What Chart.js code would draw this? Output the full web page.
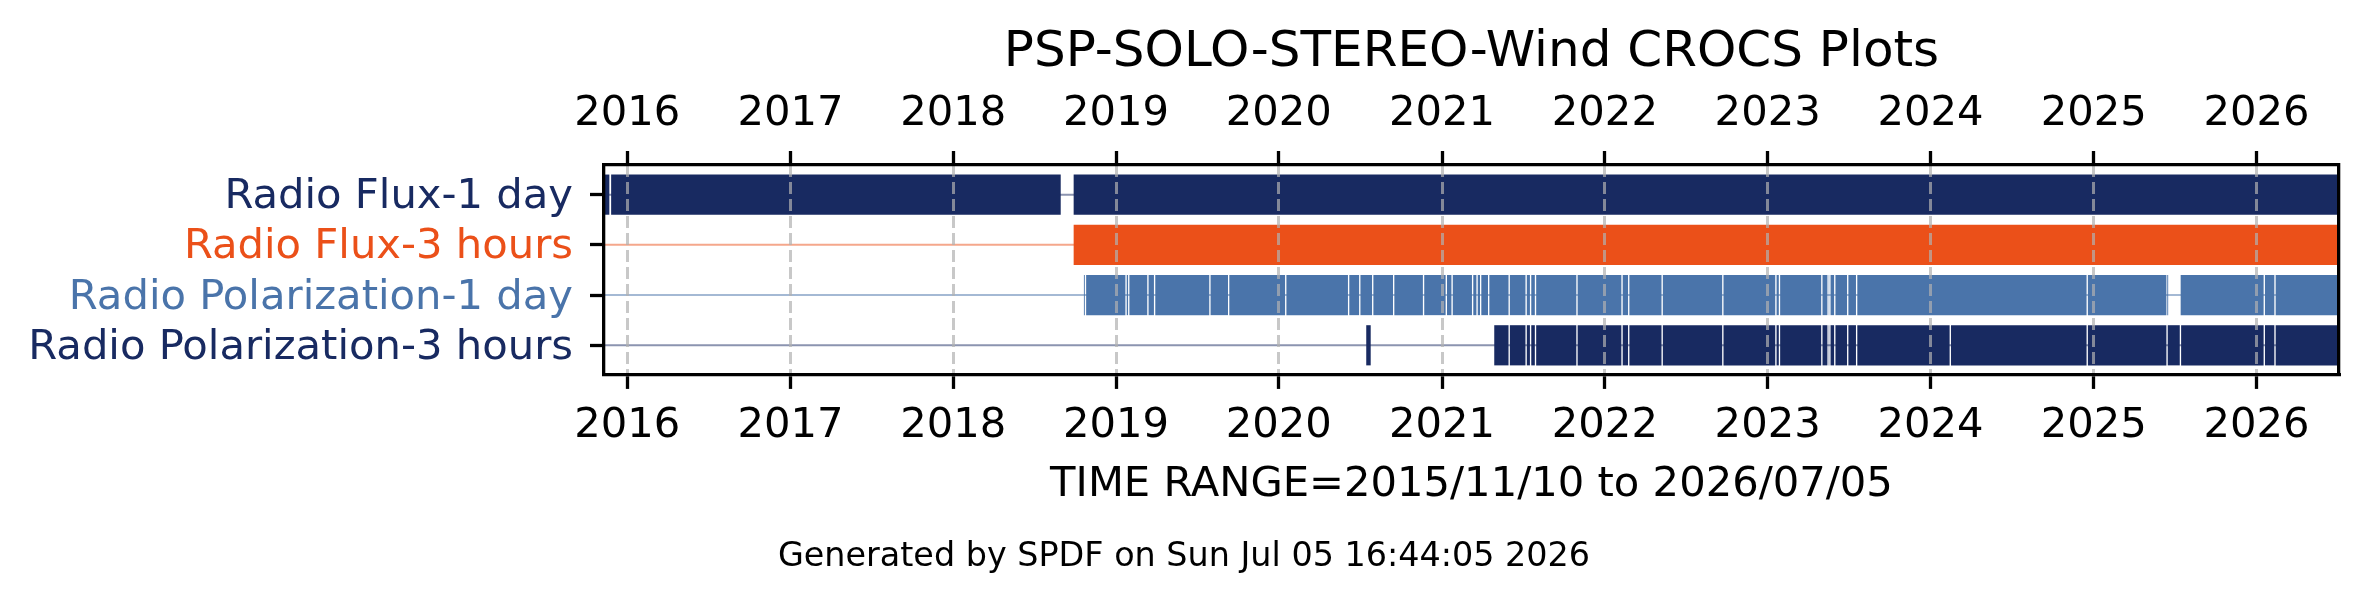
<!DOCTYPE html>
<html>
<head>
<meta charset="utf-8">
<title>PSP-SOLO-STEREO-Wind CROCS Plots</title>
<script src="https://cdn.jsdelivr.net/npm/chart.js@4.4.1/dist/chart.umd.min.js"></script>
<style>
  html, body { margin: 0; padding: 0; background: #fff; }
  canvas { display: block; }
</style>
</head>
<body>
<canvas id="crocs" width="2368" height="605"></canvas>
<script>
// rows, top to bottom
const rowLabels = ['Radio Flux-1 day', 'Radio Flux-3 hours', 'Radio Polarization-1 day', 'Radio Polarization-3 hours'];
const rowColors = ['#182a61', '#eb5019', '#4a74aa', '#182a61'];
const rowLineColors = ['rgba(24,42,97,0.5)', 'rgba(235,80,25,0.5)', 'rgba(74,116,170,0.5)', 'rgba(24,42,97,0.5)'];

const timeRange = ['2015-11-10', '2026-07-05'];
const yearTicks = ['2016', '2017', '2018', '2019', '2020', '2021', '2022', '2023', '2024', '2025', '2026'];
const footerText = 'Generated by SPDF on Sun Jul 05 16:44:05 2026';

// coverage per row: spans [start, end] and data gaps [from, to]
const flux1daySpans = [['2015-11-10', '2015-11-22'], ['2015-11-26', '2018-08-30'], ['2018-09-28', '2026-07-05']];
const flux1dayGaps = [];

const flux3hSpans = [['2018-09-28', '2026-07-05']];
const flux3hGaps = [];

const pol1daySpans = [['2018-10-21', '2026-07-05']];
const pol1dayGaps = [
  ['2018-10-23', '2018-10-26'], ['2019-01-22', '2019-01-25'], ['2019-01-28', '2019-01-31'],
  ['2019-03-12', '2019-03-15'], ['2019-03-27', '2019-03-30'], ['2019-07-29', '2019-08-01'],
  ['2019-09-09', '2019-09-12'], ['2020-01-15', '2020-01-18'], ['2020-06-04', '2020-06-07'],
  ['2020-06-29', '2020-07-02'], ['2020-07-28', '2020-07-31'], ['2020-09-13', '2020-09-16'],
  ['2020-11-19', '2020-11-22'], ['2021-01-09', '2021-01-12'], ['2021-01-22', '2021-01-25'],
  ['2021-03-09', '2021-03-12'], ['2021-03-19', '2021-03-22'], ['2021-03-27', '2021-03-30'],
  ['2021-04-14', '2021-04-17'], ['2021-05-30', '2021-06-02'], ['2021-07-07', '2021-07-10'],
  ['2021-07-17', '2021-07-20'], ['2021-07-28', '2021-07-31'], ['2021-10-29', '2021-11-01'],
  ['2022-02-07', '2022-02-10'], ['2022-02-22', '2022-02-25'], ['2022-05-08', '2022-05-11'],
  ['2022-09-21', '2022-09-24'], ['2023-01-18', '2023-01-21'], ['2023-01-26', '2023-01-29'],
  ['2023-05-01', '2023-05-04'], ['2023-05-15', '2023-05-18'], ['2023-05-19', '2023-05-22'],
  ['2023-05-30', '2023-06-02'], ['2023-06-28', '2023-07-01'], ['2023-07-18', '2023-07-21'],
  ['2024-12-16', '2024-12-19'], ['2025-06-13', '2025-06-15'], ['2025-06-17', '2025-07-15'],
  ['2026-01-17', '2026-01-20'], ['2026-02-10', '2026-02-13']
];

const pol3hSpans = [['2020-07-15', '2020-07-25'], ['2021-04-28', '2026-07-05']];
const pol3hGaps = [
  ['2021-05-30', '2021-06-02'], ['2021-07-07', '2021-07-10'], ['2021-07-17', '2021-07-20'],
  ['2021-07-28', '2021-07-31'], ['2021-10-29', '2021-11-01'], ['2022-02-07', '2022-02-10'],
  ['2022-02-22', '2022-02-25'], ['2022-05-08', '2022-05-11'], ['2022-09-21', '2022-09-24'],
  ['2023-01-18', '2023-01-21'], ['2023-01-26', '2023-01-29'], ['2023-05-01', '2023-05-04'],
  ['2023-05-15', '2023-05-18'], ['2023-05-19', '2023-05-22'], ['2023-05-30', '2023-06-02'],
  ['2023-06-28', '2023-07-01'], ['2023-07-18', '2023-07-21'], ['2024-02-13', '2024-02-16'],
  ['2024-12-16', '2024-12-19'], ['2025-06-13', '2025-06-16'], ['2025-07-13', '2025-07-16'],
  ['2026-01-17', '2026-01-20'], ['2026-02-10', '2026-02-13']
];

// date string -> days since epoch
function toDay(s) {
  return Date.parse(s) / 864e5;
}

// split spans at the gaps
function cutGaps(spans, gaps) {
  const out = [];
  spans.forEach(sp => {
    let cur = toDay(sp[0]);
    const end = toDay(sp[1]);
    gaps.forEach(g => {
      const g0 = toDay(g[0]), g1 = toDay(g[1]);
      if (g1 <= cur || g0 >= end) return;
      if (g0 > cur) out.push([cur, g0]);
      cur = Math.max(cur, g1);
    });
    if (cur < end) out.push([cur, end]);
  });
  return out;
}

const xMin = toDay(timeRange[0]);
const xMax = toDay(timeRange[1]);

const rowSegments = [
  cutGaps(flux1daySpans, flux1dayGaps),
  cutGaps(flux3hSpans, flux3hGaps),
  cutGaps(pol1daySpans, pol1dayGaps),
  cutGaps(pol3hSpans, pol3hGaps)
];

const datasets = [];
rowSegments.forEach((segs, i) => {
  datasets.push({
    type: 'bar',
    label: rowLabels[i],
    data: segs.map(s => ({ x: s, y: i })),
    backgroundColor: rowColors[i],
    borderWidth: 0,
    inflateAmount: 0,
    grouped: false,
    categoryPercentage: 1,
    barPercentage: 0.8,
    order: 0,
    xAxisID: 'x',
    yAxisID: 'y'
  });
  // thin line across the whole range
  datasets.push({
    type: 'line',
    label: rowLabels[i] + ' range',
    data: [{ x: xMin, y: i }, { x: xMax, y: i }],
    borderColor: rowLineColors[i],
    borderWidth: 2,
    pointRadius: 0,
    order: 1,
    xAxisID: 'x',
    yAxisID: 'y'
  });
});

function setYearTicks(scale) {
  scale.ticks = yearTicks.map(y => ({ value: toDay(y + '-01-01') }));
}

function setRowTicks(scale) {
  scale.ticks = rowLabels.map((_, i) => ({ value: i }));
}

Chart.defaults.font.family = '"DejaVu Sans", sans-serif';
Chart.defaults.color = '#000';

const tickFont = { size: 41.7 };
const gridGray = 'rgba(176,176,176,0.7)';

new Chart(document.getElementById('crocs'), {
  type: 'bar',
  data: { datasets: datasets },
  options: {
    indexAxis: 'y',
    responsive: false,
    devicePixelRatio: 1,
    animation: false,
    layout: { padding: { left: 0, right: 0, top: 0, bottom: 28 } },
    plugins: {
      legend: { display: false },
      tooltip: { enabled: false },
      title: {
        display: true,
        text: 'PSP-SOLO-STEREO-Wind CROCS Plots',
        fullSize: false,
        color: '#000',
        font: { size: 50, weight: 'normal' },
        padding: { top: 23, bottom: 0 }
      },
      subtitle: {
        display: true,
        text: footerText,
        position: 'bottom',
        color: '#000',
        font: { size: 33.4, weight: 'normal' },
        padding: { top: 27, bottom: 0 }
      }
    },
    scales: {
      x: {
        type: 'linear',
        position: 'bottom',
        min: xMin,
        max: xMax,
        offset: false,
        afterBuildTicks: setYearTicks,
        afterFit: s => { s.height = 135; },
        ticks: {
          callback: (v, i) => yearTicks[i],
          autoSkip: false,
          maxRotation: 0,
          padding: 12,
          font: tickFont,
          color: '#000'
        },
        grid: { color: gridGray, lineWidth: 3, z: 1, offset: false, tickColor: '#000', tickWidth: 3.3, tickLength: 14 },
        border: { color: '#000', width: 3.3, dash: [12, 5], z: 2 },
        title: {
          display: true,
          text: 'TIME RANGE=' + timeRange[0].replace(/-/g, '/') + ' to ' + timeRange[1].replace(/-/g, '/'),
          font: tickFont,
          color: '#000',
          padding: 0
        }
      },
      x2: {
        type: 'linear',
        position: 'top',
        min: xMin,
        max: xMax,
        offset: false,
        afterBuildTicks: setYearTicks,
        afterFit: s => { s.height = 82; },
        ticks: {
          callback: (v, i) => yearTicks[i],
          autoSkip: false,
          maxRotation: 0,
          padding: 12,
          font: tickFont,
          color: '#000'
        },
        grid: { drawOnChartArea: false, z: 1, offset: false, tickColor: '#000', tickWidth: 3.3, tickLength: 14 },
        border: { color: '#000', width: 3.3, z: 2 }
      },
      y: {
        type: 'linear',
        position: 'left',
        reverse: true,
        min: -0.59,
        max: 3.59,
        offset: false,
        afterBuildTicks: setRowTicks,
        afterFit: s => { s.width = 604; },
        ticks: {
          callback: v => rowLabels[v],
          color: c => rowColors[c.index],
          autoSkip: false,
          padding: 17,
          labelOffset: 2.6,
          font: tickFont
        },
        grid: { drawOnChartArea: false, z: 1, offset: false, tickColor: '#000', tickWidth: 3.3, tickLength: 14 },
        border: { color: '#000', width: 3.3, z: 2 }
      },
      y2: {
        type: 'linear',
        position: 'right',
        min: -0.59,
        max: 3.59,
        offset: false,
        afterFit: s => { s.width = 29; },
        ticks: { display: false },
        grid: { drawOnChartArea: false, drawTicks: false, offset: false },
        border: { color: '#000', width: 3.3, z: 2 }
      }
    }
  }
});
</script>
</body>
</html>
